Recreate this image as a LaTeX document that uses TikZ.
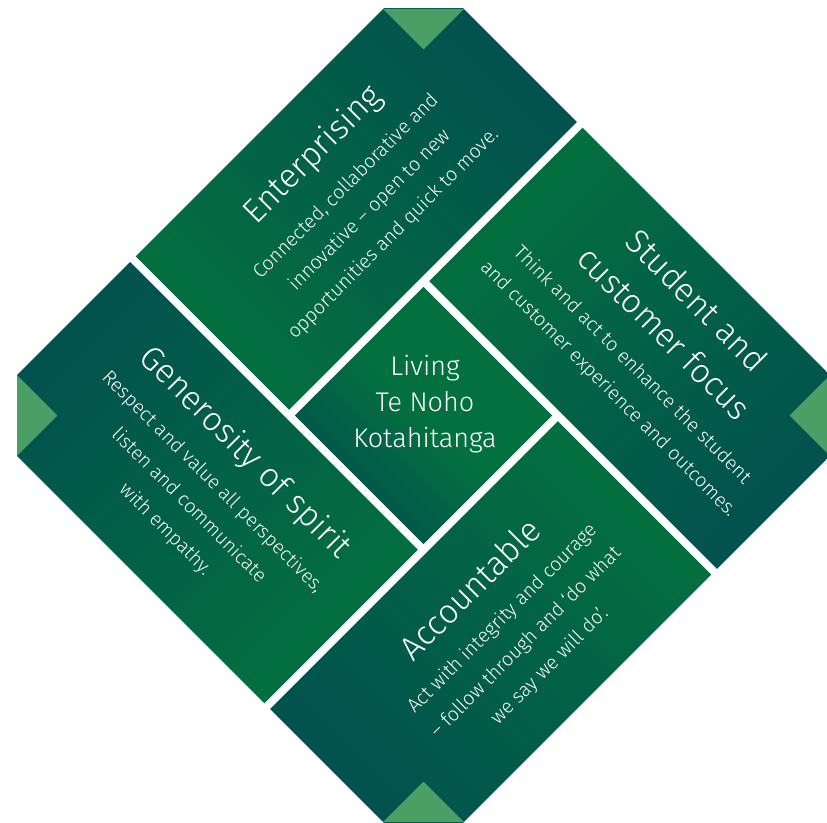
\documentclass[tikz,border=0pt]{standalone}
\usepackage{fontspec}
\setmainfont{Fira Sans Light}
\definecolor{valteal}{HTML}{02504F}
\definecolor{valgreen}{HTML}{03703F}
\definecolor{valleaf}{HTML}{4B9F65}
\tikzset{
  valuehead/.style={text=white, align=center, inner sep=0pt, font=\fontsize{33.5}{46}\selectfont},
  valuetext/.style={text=white, align=center, inner sep=0pt, font=\fontsize{19.5}{33.5}\selectfont},
}
\begin{document}
\begin{tikzpicture}[x=1pt,y=1pt]
        \useasboundingbox (0,0) rectangle (827,822);

        \begin{scope}
          \clip (17,0) rectangle (830,813);
          \begin{scope}[shift={(423.5,406.5)}, rotate=45]
            % pinwheel of four blocks round the middle square
            \shade[bottom color=valgreen, top color=valteal, shading angle=-45] (-91,99) rectangle (316,316);
            \shade[bottom color=valgreen, top color=valteal, shading angle=-135] (99,-316) rectangle (316,91);
            \shade[bottom color=valgreen, top color=valteal, shading angle=135] (-316,-316) rectangle (91,-99);
            \shade[bottom color=valgreen, top color=valteal, shading angle=45] (-316,-91) rectangle (-99,316);
            \shade[bottom color=valgreen, top color=valteal, middle color=valgreen, shading angle=135] (-91,-91) rectangle (91,91);

            \node[valuehead, rotate=45] (enterprising) at (106,262) {Enterprising};
            \node[valuetext, rotate=45] (enterprisingtext) at (107,183)
              {Connected, collaborative and\\innovative -- open to new\\opportunities and quick to move.};

            \node[valuehead, rotate=-45] (student) at (252,-112) {Student and\\customer focus};
            \node[valuetext, rotate=-45] (studenttext) at (166,-112)
              {Think and act to enhance the student\\and customer experience and outcomes.};

            \node[valuehead, rotate=45] (accountable) at (-90,-155) {Accountable};
            \node[valuetext, rotate=45] (accountabletext) at (-88,-233)
              {Act with integrity and courage\\-- follow through and `do what\\we say we will do'.};

            \node[valuehead, rotate=-45] (generosity) at (-153,100) {Generosity of spirit};
            \node[valuetext, rotate=-45] (generositytext) at (-230,102)
              {Respect and value all perspectives,\\listen and communicate\\with empathy.};
          \end{scope}

          % folded-in corners
          \fill[valleaf] (383.1,813) -- (463.9,813) -- (423.5,772.6) -- cycle;
          \fill[valleaf] (383.1,0) -- (463.9,0) -- (423.5,40.4) -- cycle;
          \fill[valleaf] (17,366.1) -- (17,446.9) -- (57.4,406.5) -- cycle;
          \fill[valleaf] (830,366.1) -- (830,446.9) -- (789.6,406.5) -- cycle;
        \end{scope}

        \node[text=white, align=center, font=\fontsize{27}{36}\selectfont] (living) at (425,418)
          {Living\\Te Noho\\Kotahitanga};
\end{tikzpicture}
\end{document}
